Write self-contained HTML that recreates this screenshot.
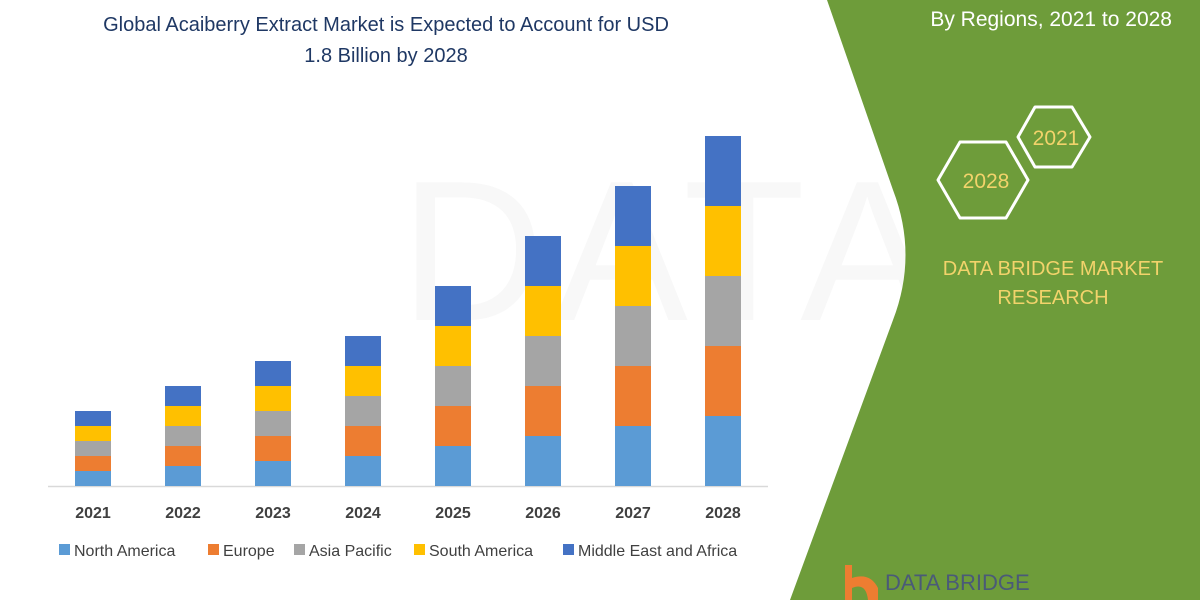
<!DOCTYPE html>
<html><head><meta charset="utf-8"><style>
html,body{margin:0;padding:0;background:#fff;width:1200px;height:600px;overflow:hidden;}
svg{display:block;font-family:"Liberation Sans",sans-serif;}
</style></head><body>
<svg width="1200" height="600" viewBox="0 0 1200 600" overflow="hidden">
<rect width="1200" height="600" fill="#fff"/>
<text x="400" y="320" font-size="200" fill="#f8f8f8" letter-spacing="10">DATA</text>
<path d="M827,0 L893,190 Q918,255 893,320 L790,600 L1200,600 L1200,0 Z" fill="#6e9c3a"/>
<text x="1172" y="26" font-size="21" fill="#fff" text-anchor="end">By Regions, 2021 to 2028</text>
<polygon points="1018,137 1035,107 1072,107 1090,137 1072,167 1035,167" fill="none" stroke="#fff" stroke-width="3" stroke-linejoin="round"/>
<text x="1056" y="145" font-size="21" fill="#f2d36b" text-anchor="middle">2021</text>
<polygon points="938,180 960,142 1006,142 1028,180 1006,218 960,218" fill="none" stroke="#fff" stroke-width="3" stroke-linejoin="round"/>
<text x="986" y="188" font-size="21" fill="#f2d36b" text-anchor="middle">2028</text>
<text x="1053" y="275" font-size="20" fill="#f2d36b" text-anchor="middle">DATA BRIDGE MARKET</text>
<text x="1053" y="304" font-size="20" fill="#f2d36b" text-anchor="middle">RESEARCH</text>
<path d="M845,565 L852,565 L852,578 Q870,572 878,588 L878,600 L868,600 Q866,582 852,588 L852,600 L845,600 Z" fill="#ed7d31"/>
<text x="885" y="590" font-size="22" fill="#4a5a78">DATA BRIDGE</text>
<text x="386" y="31" font-size="20" fill="#1f3864" text-anchor="middle">Global Acaiberry Extract Market is Expected to Account for USD</text>
<text x="386" y="62" font-size="20" fill="#1f3864" text-anchor="middle">1.8 Billion by 2028</text>
<line x1="48" y1="486.5" x2="768" y2="486.5" stroke="#d9d9d9" stroke-width="1.5"/>
<g font-size="16" font-weight="bold" fill="#404040" text-anchor="middle">
<text x="93" y="518">2021</text><text x="183" y="518">2022</text><text x="273" y="518">2023</text><text x="363" y="518">2024</text>
<text x="453" y="518">2025</text><text x="543" y="518">2026</text><text x="633" y="518">2027</text><text x="723" y="518">2028</text>
</g>
<g font-size="16" fill="#404040">
<rect x="59" y="544" width="11" height="11" fill="#5b9bd5"/><text x="74" y="556">North America</text>
<rect x="208" y="544" width="11" height="11" fill="#ed7d31"/><text x="223" y="556">Europe</text>
<rect x="294" y="544" width="11" height="11" fill="#a5a5a5"/><text x="309" y="556">Asia Pacific</text>
<rect x="414" y="544" width="11" height="11" fill="#ffc000"/><text x="429" y="556">South America</text>
<rect x="563" y="544" width="11" height="11" fill="#4472c4"/><text x="578" y="556">Middle East and Africa</text>
</g>
<g>
<rect x="75" y="471" width="36" height="15" fill="#5b9bd5"/><rect x="75" y="456" width="36" height="15" fill="#ed7d31"/><rect x="75" y="441" width="36" height="15" fill="#a5a5a5"/><rect x="75" y="426" width="36" height="15" fill="#ffc000"/><rect x="75" y="411" width="36" height="15" fill="#4472c4"/>
<rect x="165" y="466" width="36" height="20" fill="#5b9bd5"/><rect x="165" y="446" width="36" height="20" fill="#ed7d31"/><rect x="165" y="426" width="36" height="20" fill="#a5a5a5"/><rect x="165" y="406" width="36" height="20" fill="#ffc000"/><rect x="165" y="386" width="36" height="20" fill="#4472c4"/>
<rect x="255" y="461" width="36" height="25" fill="#5b9bd5"/><rect x="255" y="436" width="36" height="25" fill="#ed7d31"/><rect x="255" y="411" width="36" height="25" fill="#a5a5a5"/><rect x="255" y="386" width="36" height="25" fill="#ffc000"/><rect x="255" y="361" width="36" height="25" fill="#4472c4"/>
<rect x="345" y="456" width="36" height="30" fill="#5b9bd5"/><rect x="345" y="426" width="36" height="30" fill="#ed7d31"/><rect x="345" y="396" width="36" height="30" fill="#a5a5a5"/><rect x="345" y="366" width="36" height="30" fill="#ffc000"/><rect x="345" y="336" width="36" height="30" fill="#4472c4"/>
<rect x="435" y="446" width="36" height="40" fill="#5b9bd5"/><rect x="435" y="406" width="36" height="40" fill="#ed7d31"/><rect x="435" y="366" width="36" height="40" fill="#a5a5a5"/><rect x="435" y="326" width="36" height="40" fill="#ffc000"/><rect x="435" y="286" width="36" height="40" fill="#4472c4"/>
<rect x="525" y="436" width="36" height="50" fill="#5b9bd5"/><rect x="525" y="386" width="36" height="50" fill="#ed7d31"/><rect x="525" y="336" width="36" height="50" fill="#a5a5a5"/><rect x="525" y="286" width="36" height="50" fill="#ffc000"/><rect x="525" y="236" width="36" height="50" fill="#4472c4"/>
<rect x="615" y="426" width="36" height="60" fill="#5b9bd5"/><rect x="615" y="366" width="36" height="60" fill="#ed7d31"/><rect x="615" y="306" width="36" height="60" fill="#a5a5a5"/><rect x="615" y="246" width="36" height="60" fill="#ffc000"/><rect x="615" y="186" width="36" height="60" fill="#4472c4"/>
<rect x="705" y="416" width="36" height="70" fill="#5b9bd5"/><rect x="705" y="346" width="36" height="70" fill="#ed7d31"/><rect x="705" y="276" width="36" height="70" fill="#a5a5a5"/><rect x="705" y="206" width="36" height="70" fill="#ffc000"/><rect x="705" y="136" width="36" height="70" fill="#4472c4"/>
</g>
</svg>
</body></html>
